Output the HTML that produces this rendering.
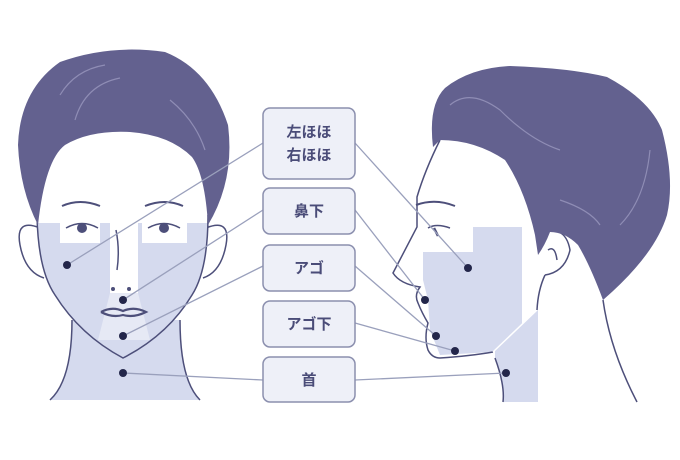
<!DOCTYPE html><html><head><style>body{margin:0;background:#fff}svg{display:block}text{font-family:"Liberation Sans","Noto Sans CJK JP",sans-serif;font-weight:bold;fill:#4a4c78;font-size:15px}</style></head><body>
<svg width="680" height="460" viewBox="0 0 680 460">
<g stroke="#4d4f7a" stroke-width="1.5" fill="none">
<!-- front neck -->
<path d="M72 320 Q72 380 50 400 L200 400 Q180 380 180 320 Z" fill="#d5daee" stroke="none"/>
<path d="M72 320 Q72 380 50 400 M180 320 Q180 380 200 400"/>
<!-- ears -->
<path d="M40 228 Q15 218 20 245 Q25 272 44 278" fill="#fff"/>
<path d="M206 228 Q231 218 226 245 Q221 272 203 278" fill="#fff"/>
<!-- face -->
<path d="M37 180 L37 220 Q38 270 55 295 Q80 335 123 358 Q168 335 192 295 Q208 270 208 220 L208 180 Z" fill="#fff" stroke="none"/>
<path d="M37 223 L208 223 Q208 270 192 295 Q168 335 123 358 Q80 335 55 295 Q38 270 37 223 Z" fill="#d5daee" stroke="none"/>
<rect x="60" y="223" width="40" height="20" fill="#fff" stroke="none"/>
<rect x="142" y="223" width="45" height="20" fill="#fff" stroke="none"/>
<rect x="110" y="223" width="28" height="70" fill="#fff" stroke="none"/>
<path d="M110 293 L138 293 L150 340 L98 340 Z" fill="#e6e9f5" stroke="none"/>
<path d="M37 215 Q38 270 55 295 Q80 335 123 358 Q168 335 192 295 Q208 270 208 215"/>
<path d="M62 206 Q80 198 100 206 M145 206 Q165 198 183 206" stroke-width="2"/>
<path d="M66 228 Q82 219 98 228 M148 228 Q164 219 180 228"/>
<circle cx="82" cy="228" r="5" fill="#4d4f7a" stroke="none"/><circle cx="164" cy="228" r="5" fill="#4d4f7a" stroke="none"/>
<path d="M116 230 Q120 250 117 270"/>
<circle cx="113" cy="289" r="2" fill="#4d4f7a" stroke="none"/><circle cx="129" cy="289" r="2" fill="#4d4f7a" stroke="none"/>
<path d="M101 312 Q112 306 123 311 Q134 306 146 312 Q134 318 123 315 Q112 318 101 312" stroke-width="2.2"/>
<!-- front hair -->
<path d="M38 225 Q20 190 18 145 Q20 90 60 62 Q110 44 165 52 Q210 70 228 125 Q235 180 208 225 Q205 175 192 157 Q170 135 130 132 Q90 130 65 145 Q45 160 38 225 Z" fill="#63618f" stroke="none"/>
<path d="M60 95 Q75 70 105 65 M75 120 Q85 85 120 78 M170 100 Q195 120 205 150" stroke="#8f8db5" stroke-width="1.2"/>
<!-- side neck -->
<path d="M495 358 Q505 385 503 402 L637 402 Q605 340 603 300 L575 270 L537 310 Z" fill="#fff" stroke="none"/>
<path d="M495 310 L538 310 L538 402 L503 402 Q505 385 495 358Z" fill="#d5daee" stroke="none"/>
<path d="M495 358 Q505 385 503 402 M603 300 Q610 350 637 402"/>
<!-- side face -->
<path d="M440 140 Q425 170 417 197 Q417 215 417 227 Q405 250 393 273 Q400 284 420 287 Q414 295 418 303 Q422 313 428 323 Q424 338 428 350 Q432 358 440 358 Q470 356 493 352 L537 310 L560 250 L550 150 Z" fill="#fff" stroke="none"/>
<path d="M423 252 L473 252 L473 227 L522 227 L522 330 L493 352 L440 355 L430 330 L428 300 L423 280Z" fill="#d5daee" stroke="none"/>
<path d="M440 140 Q425 170 417 197 Q417 215 417 227 Q405 250 393 273 Q400 284 420 287 Q414 295 418 303 Q422 313 428 323 Q424 338 428 350 Q432 358 440 358 Q470 356 493 352"/>
<path d="M493 352 L537 310" stroke="#fff"/>
<path d="M416 205 Q435 198 455 206" stroke-width="2"/>
<path d="M428 228 Q436 223 450 228"/><path d="M434 228 L438 236" stroke-width="2.5"/>
<path d="M537 235 Q565 222 570 250 Q565 272 545 275 M548 250 Q555 245 557 260"/>
<path d="M545 275 Q538 290 537 310"/>
<!-- side hair -->
<path d="M433 147 Q428 105 445 88 Q470 68 510 66 Q570 68 607 77 Q650 100 662 130 Q675 180 667 215 Q655 255 603 300 Q590 265 578 245 Q565 232 550 232 Q545 245 538 255 L535 235 Q525 190 505 160 Q475 140 440 140 Z" fill="#63618f" stroke="none"/>
<path d="M450 105 Q470 88 500 110 Q530 140 560 150 M560 200 Q590 210 600 225 M650 150 Q645 200 620 225" stroke="#8f8db5" stroke-width="1.2"/>
</g>
<!-- connectors -->
<g stroke="#9aa0bc" stroke-width="1.3">
<line x1="67" y1="265" x2="263" y2="143"/><line x1="123" y1="300" x2="263" y2="210"/><line x1="123" y1="336" x2="263" y2="266"/><line x1="123" y1="373" x2="263" y2="380"/>
<line x1="355" y1="143" x2="468" y2="268"/><line x1="355" y1="210" x2="425" y2="300"/><line x1="355" y1="266" x2="436" y2="336"/><line x1="355" y1="323" x2="455" y2="351"/><line x1="355" y1="380" x2="506" y2="373"/>
</g>
<g fill="#23264a">
<circle cx="67" cy="265" r="4"/><circle cx="123" cy="300" r="4"/><circle cx="123" cy="336" r="4"/><circle cx="123" cy="373" r="4"/>
<circle cx="468" cy="268" r="4"/><circle cx="425" cy="300" r="4"/><circle cx="436" cy="336" r="4"/><circle cx="455" cy="351" r="4"/><circle cx="506" cy="373" r="4"/>
</g>
<g fill="#eef0f8" stroke="#8b8fae" stroke-width="1.5">
<rect x="263" y="108" width="92" height="71" rx="7"/><rect x="263" y="188" width="92" height="46" rx="7"/><rect x="263" y="245" width="92" height="46" rx="7"/><rect x="263" y="301" width="92" height="46" rx="7"/><rect x="263" y="357" width="92" height="45" rx="7"/>
</g>
<g text-anchor="middle">
<text x="309" y="137">左ほほ</text><text x="309" y="160">右ほほ</text>
<text x="309" y="216">鼻下</text><text x="309" y="273">アゴ</text><text x="309" y="329">アゴ下</text><text x="309" y="385">首</text>
</g>
</svg></body></html>
